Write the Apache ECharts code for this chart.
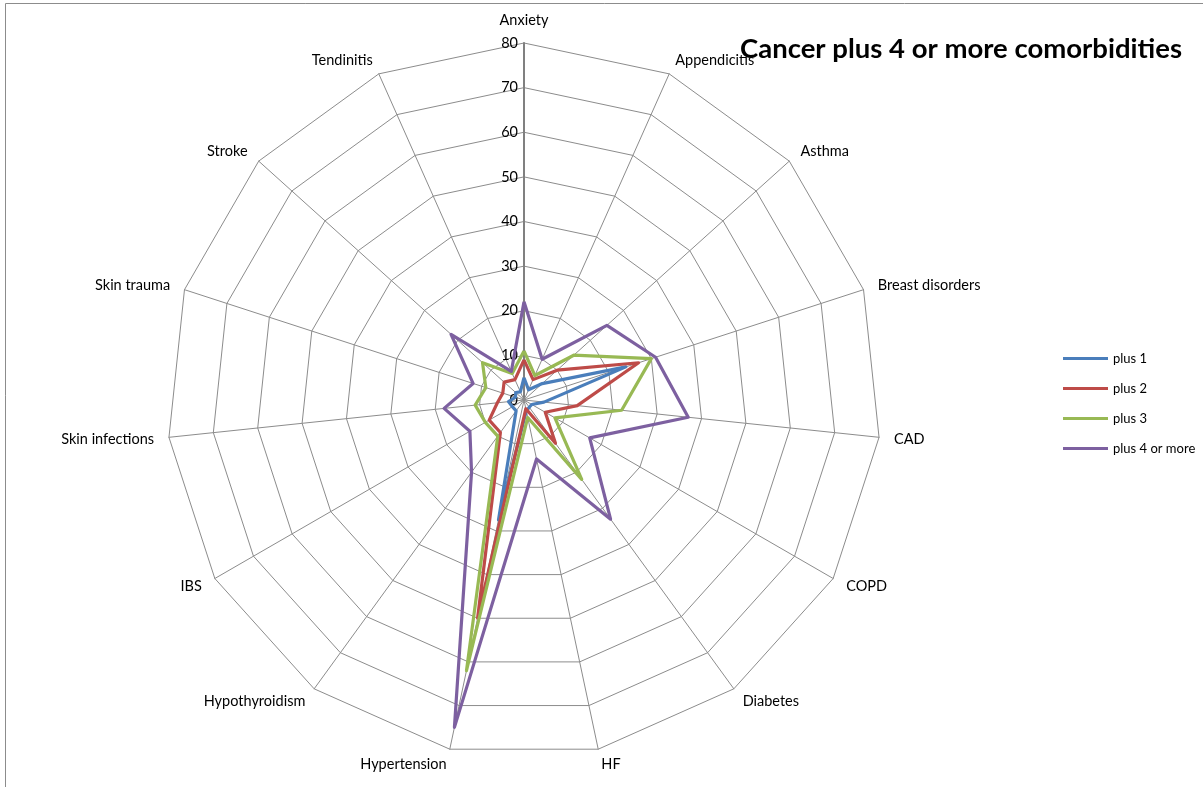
<!DOCTYPE html>
<html><head><meta charset="utf-8">
<script src="https://cdn.jsdelivr.net/npm/echarts@6/dist/echarts.min.js"></script>
<style>html,body{margin:0;padding:0;background:#fff}#c{width:1203px;height:787px}</style>
</head><body><div id="c"></div>
<script>
const categories = ['Anxiety','Appendicitis','Asthma','Breast disorders','CAD','COPD','Diabetes','HF','Hypertension','Hypothyroidism','IBS','Skin infections','Skin trauma','Stroke','Tendinitis'];
const seriesNames = ['plus 1','plus 2','plus 3','plus 4 or more'];
const plus1 = [5, 2.5, 5.5, 24, 4.5, 2, 2, 2.5, 27.5, 3, 3, 3.5, 2, 2.5, 2];
const plus2 = [9, 5, 10, 27, 12, 5.5, 12, 2, 50, 9, 9, 6, 5, 6, 5];
const plus3 = [11, 6, 15, 30, 22, 8, 22, 4, 62, 10, 10, 11, 9, 12.5, 6.5];
const plus4 = [22, 10, 25, 31, 37, 17, 33, 13.5, 75, 20, 14, 18, 12, 22, 7];
const axisMax = 80;
const axisSplits = 8;
const colors = ['#4A7EBB','#BE4B48','#98B954','#7D60A0'];
const FONT = 'Lato, "Open Sans", sans-serif';

// ECharts lays radar indicators counter-clockwise; the reference runs clockwise,
// so keep the first category on top and walk the rest in reverse.
const order = [0].concat(categories.map((_, i) => i).slice(1).reverse());
const reorder = arr => order.map(i => arr[i]);

const chart = echarts.init(document.getElementById('c'), null, {renderer:'canvas'});
const seriesValues = [plus1, plus2, plus3, plus4];
chart.setOption({
  animation: false,
  backgroundColor: '#fff',
  title: {
    text: 'Cancer plus 4 or more comorbidities',
    right: 16, top: 30,
    textStyle: {fontFamily: FONT, fontWeight: 'bold', fontSize: 27.5, color: '#000'}
  },
  legend: {
    orient: 'vertical', left: 1058, top: 347,
    itemWidth: 45, itemHeight: 3, itemGap: 17, icon: 'rect',
    textStyle: {fontFamily: FONT, fontSize: 13, color: '#000'},
    data: seriesNames
  },
  graphic: [{type:'rect', shape:{x:5.5, y:3.5, width:1400, height:1000}, style:{fill:'none', stroke:'#8c8c8c', lineWidth:1}, silent:true}],
  radar: {
    center: [524, 400], radius: 357,
    startAngle: 90, shape: 'polygon', splitNumber: axisSplits,
    indicator: reorder(categories).map((c,i) => {
      const o = {name: c, min: 0, max: axisMax};
      if (i === 0) {
        o.axisLabel = {show: true, fontFamily: FONT, fontSize: 14.5, color: '#000', margin: 6};
        o.axisLine = {lineStyle: {color: '#808080', width: 2}};
      }
      return o;
    }),
    axisName: {color: '#000', fontFamily: FONT, fontSize: 14.5},
    nameGap: 15,
    axisLine: {lineStyle: {color: '#8c8c8c', width: 1}},
    splitLine: {lineStyle: {color: '#8c8c8c', width: 1}},
    splitArea: {show: false},
    axisLabel: {show: false},
    axisTick: {show: false}
  },
  series: [{
    type: 'radar',
    symbol: 'none',
    data: seriesValues.map((v,i) => ({
      name: seriesNames[i], value: reorder(v),
      lineStyle: {color: colors[i], width: 3.2},
      itemStyle: {color: colors[i]}
    }))
  }]
});
</script></body></html>
